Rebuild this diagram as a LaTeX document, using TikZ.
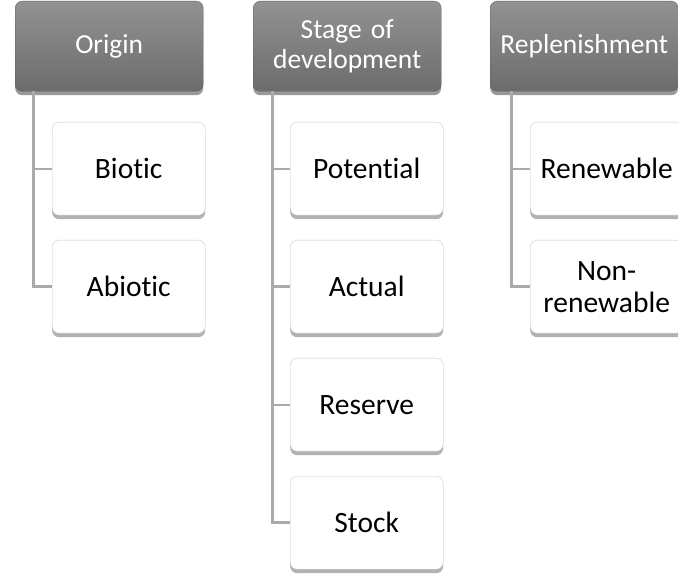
\documentclass[tikz,border=0pt]{standalone}
\usepackage{fontspec}
\setmainfont{Carlito}[Ligatures=NoCommon]
\usetikzlibrary{shadows}
\definecolor{headtop}{RGB}{146,146,146}
\definecolor{headbot}{RGB}{108,108,108}
\definecolor{headedge}{RGB}{95,95,95}
\definecolor{childedge}{RGB}{200,200,200}
\definecolor{connc}{RGB}{170,170,170}
\begin{document}
\begin{tikzpicture}[x=1pt,y=-1pt,
  head/.style={rounded corners=7pt, top color=headtop, bottom color=headbot, draw=headedge,
    minimum width=188pt, minimum height=90pt, text width=182pt, align=center,
    font=\fontsize{27.5}{30}\selectfont, text=white, anchor=north west, inner sep=0pt,
    drop shadow={fill=black!40, shadow xshift=0pt, shadow yshift=-4pt, opacity=1}},
  child/.style={rounded corners=7pt, draw=childedge, fill=white,
    minimum width=153pt, minimum height=93pt, text width=149pt, align=center,
    font=\fontsize{29.5}{32}\selectfont, anchor=north west, inner sep=0pt,
    drop shadow={fill=black!30, shadow xshift=0pt, shadow yshift=-4pt, opacity=1}},
  conn/.style={draw=connc, line width=3pt},
  twig/.style={draw=connc, line width=2pt}]
\useasboundingbox (0,0) rectangle (678,585);
\clip (0,0) rectangle (678,585);
% column 1
\node[head] (o) at (15,1) {Origin};
\node[child] (bio) at (52,122) {Biotic};
\node[child] (abio) at (52,240) {Abiotic};
\coordinate (t1) at (33,91);
\draw[conn] (t1) |- (abio.west);
\draw[twig] (t1 |- bio.west) -- (bio.west);
% column 2
\node[head] (s) at (253,1) {Stage of\\development};
\node[child] (pot) at (290,122) {Potential};
\node[child] (act) at (290,240) {Actual};
\node[child] (res) at (290,358) {Reserve};
\node[child] (sto) at (290,476) {Stock};
\coordinate (t2) at (272,91);
\draw[conn] (t2) |- (sto.west);
\draw[twig] (t2 |- pot.west) -- (pot.west);
\draw[conn] (t2 |- act.west) -- (act.west);
\draw[twig] (t2 |- res.west) -- (res.west);
% column 3
\node[head] (r) at (490,1) {Replenishment};
\node[child] (ren) at (530,122) {Renewable};
\node[child] (non) at (530,240) {Non-\\renewable};
\coordinate (t3) at (511,91);
\draw[conn] (t3) |- (non.west);
\draw[twig] (t3 |- ren.west) -- (ren.west);
\end{tikzpicture}
\end{document}
